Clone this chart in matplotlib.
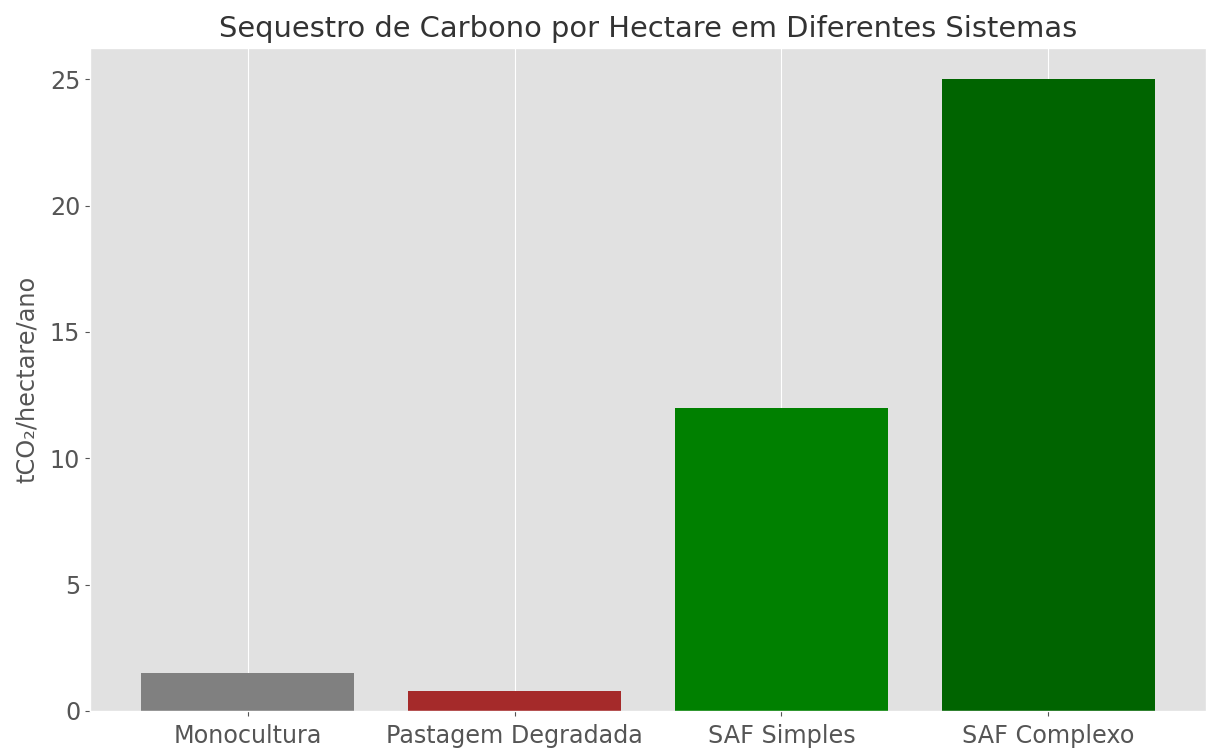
import matplotlib
matplotlib.use("Agg")
import matplotlib.pyplot as plt

sistemas = ["Monocultura", "Pastagem Degradada", "SAF Simples", "SAF Complexo"]
sequestro = [1.5, 0.8, 12, 25]
cores = ["gray", "brown", "green", "darkgreen"]

plt.style.use("ggplot")

W, H = 1206, 748
fig = plt.figure(figsize=(W / 100, H / 100), dpi=100)
# axes placed so the tick labels run off the bottom edge, as in the reference
ax = fig.add_axes([90 / W, (H - 711) / H, (W - 90) / W, (711 - 47.7) / H])
ax.set_facecolor("#E1E1E1")

ax.bar(sistemas, sequestro, color=cores)
ax.grid(False, axis="y")
ax.grid(True, axis="x")

ax.set_title("Sequestro de Carbono por Hectare em Diferentes Sistemas",
             fontsize=20.8, color="#333333", pad=8)
ax.set_ylabel("tCO₂/hectare/ano", fontsize=17.3, labelpad=8)
ax.tick_params(axis="both", labelsize=17.2)
ax.tick_params(axis="x", pad=6)

fig.savefig("out.png", dpi=100)
